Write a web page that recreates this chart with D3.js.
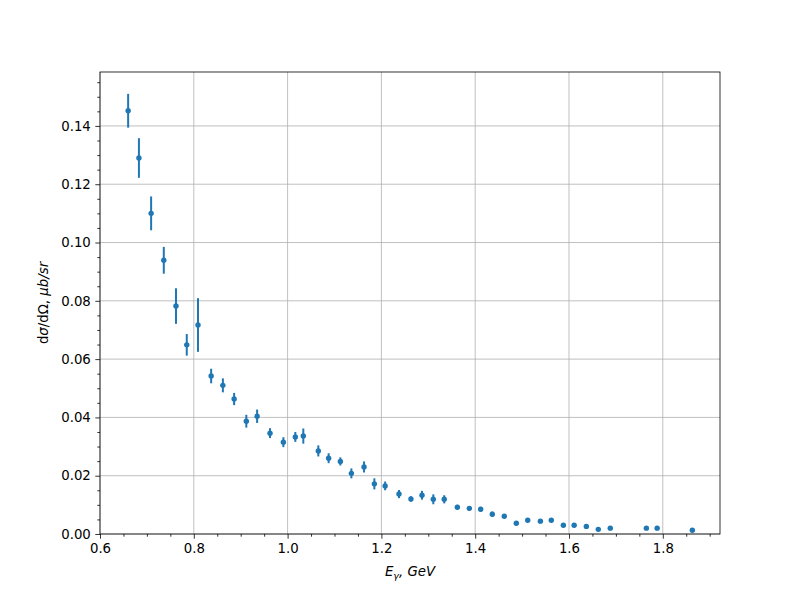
<!DOCTYPE html>
<html><head><meta charset="utf-8">
<script src="https://cdn.jsdelivr.net/npm/d3@7"></script>
<style>body{margin:0;background:#fff}svg{display:block}text{font-family:"DejaVu Sans",sans-serif}</style>
</head><body>
<svg id="c" width="800" height="600"></svg>
<script>
const energy = [0.660,0.683,0.709,0.736,0.762,0.785,0.809,0.837,0.862,0.886,0.912,0.935,0.9625,0.991,1.0165,1.0335,1.0655,1.0875,1.1125,1.136,1.163,1.185,1.208,1.2375,1.263,1.2866,1.3107,1.334,1.362,1.3875,1.4117,1.4365,1.462,1.4877,1.512,1.539,1.5623,1.588,1.611,1.637,1.6625,1.688,1.765,1.788,1.863];
const crossSection = [0.1452,0.129,0.110,0.0939,0.0782,0.0649,0.0717,0.0542,0.0510,0.0463,0.0387,0.0404,0.0346,0.0315,0.0333,0.0336,0.0285,0.0260,0.0249,0.0208,0.0230,0.0172,0.0165,0.0137,0.0120,0.0133,0.0119,0.0119,0.0092,0.0088,0.0085,0.0068,0.0061,0.0037,0.0047,0.0044,0.0047,0.0030,0.0030,0.0026,0.0016,0.0020,0.0020,0.0020,0.0013];
const errors = [0.0058,0.0068,0.0058,0.0046,0.0061,0.0037,0.0092,0.0025,0.0024,0.0021,0.0022,0.0023,0.0017,0.0017,0.0017,0.0026,0.0019,0.0017,0.0014,0.0017,0.0019,0.0019,0.0015,0.0014,0.0009,0.0015,0.0017,0.0014,0.0008,0.0008,0.0008,0.0009,0.0006,0.0005,0.0005,0.0005,0.0005,0.0004,0.0004,0.0004,0.0004,0.0004,0.0004,0.0004,0.0003];
const xTicks = [0.6,0.8,1.0,1.2,1.4,1.6,1.8];
const yTicks = [0.00,0.02,0.04,0.06,0.08,0.10,0.12,0.14];

const svg = d3.select("#c");
const L=100,R=720,T=72,B=534;
const x = d3.scaleLinear().domain([0.6,1.922]).range([L,R]);
const y = d3.scaleLinear().domain([0,0.1585]).range([B,T]);
const col = "#1f77b4";

// grid
const g = svg.append("g");
g.selectAll(".gx").data(xTicks).enter().append("line")
 .attr("x1",d=>x(d)).attr("x2",d=>x(d)).attr("y1",T).attr("y2",B)
 .attr("stroke","#b0b0b0").attr("stroke-width",0.8);
g.selectAll(".gy").data(yTicks).enter().append("line")
 .attr("y1",d=>y(d)).attr("y2",d=>y(d)).attr("x1",L).attr("x2",R)
 .attr("stroke","#b0b0b0").attr("stroke-width",0.8);

// axes
const xMinor = d3.range(0.6,1.921,0.05).filter(v=>Math.abs(Math.round(v*5)-v*5)>1e-6);
const yMinor = d3.range(0,0.1585,0.005).filter(v=>Math.abs(Math.round(v*50)-v*50)>1e-6);
const xAx = svg.append("g").attr("transform",`translate(0,${B})`)
 .call(d3.axisBottom(x).tickValues(xTicks).tickFormat(d3.format(".1f")).tickSizeOuter(0).tickSize(4.7).tickPadding(4.5));
const xAxm = svg.append("g").attr("transform",`translate(0,${B})`)
 .call(d3.axisBottom(x).tickValues(xMinor).tickFormat("").tickSizeOuter(0).tickSize(2.7));
const yAx = svg.append("g").attr("transform",`translate(${L},0)`)
 .call(d3.axisLeft(y).tickValues(yTicks).tickFormat(d3.format(".2f")).tickSizeOuter(0).tickSize(4.7).tickPadding(4.5));
const yAxm = svg.append("g").attr("transform",`translate(${L},0)`)
 .call(d3.axisLeft(y).tickValues(yMinor).tickFormat("").tickSizeOuter(0).tickSize(2.7));
[xAx,xAxm,yAx,yAxm].forEach(a=>{
  a.select(".domain").remove();
  a.selectAll("line").attr("stroke","#000").attr("stroke-width",0.8);
  a.selectAll("text").attr("font-size","13.3px").attr("fill","#000").attr("font-family","DejaVu Sans");
});

// data: error bars
const pts = energy.map((e,i)=>({e, v:crossSection[i], s:errors[i]}));
svg.append("g").selectAll("line").data(pts).enter().append("line")
 .attr("x1",d=>x(d.e)).attr("x2",d=>x(d.e))
 .attr("y1",d=>y(d.v-d.s)).attr("y2",d=>y(d.v+d.s))
 .attr("stroke",col).attr("stroke-width",2);
svg.append("g").selectAll("circle").data(pts).enter().append("circle")
 .attr("cx",d=>x(d.e)).attr("cy",d=>y(d.v)).attr("r",2.7).attr("fill",col);

// spines
svg.append("rect").attr("x",L).attr("y",T).attr("width",R-L).attr("height",B-T)
 .attr("fill","none").attr("stroke","#000").attr("stroke-width",0.8);

// labels
const xl = svg.append("text").attr("x",(L+R)/2).attr("y",576).attr("text-anchor","middle")
 .attr("font-size","13.3px").attr("font-style","italic");
xl.append("tspan").text("E");
xl.append("tspan").attr("font-size","9.5px").attr("dy",3).text("γ");
xl.append("tspan").attr("dy",-3).text(", GeV");

const yl = svg.append("text").attr("transform",`translate(48,${(T+B)/2}) rotate(-90)`)
 .attr("text-anchor","middle").attr("font-size","13.3px");
yl.append("tspan").text("d");
yl.append("tspan").attr("font-style","italic").text("σ");
yl.append("tspan").text("/dΩ, ");
yl.append("tspan").attr("font-style","italic").text("μb/sr");
</script>
</body></html>
